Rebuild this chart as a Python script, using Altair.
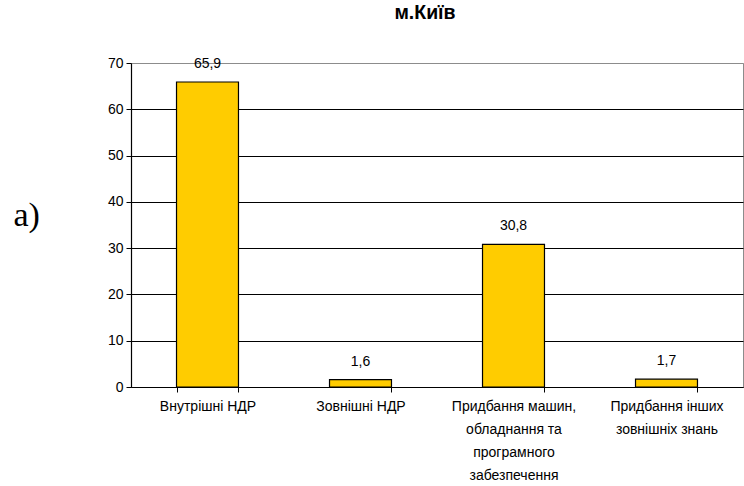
import altair as alt
import pandas as pd

# Innovation spending structure, Kyiv (%)
categories = [
    "Внутрішні НДР",
    "Зовнішні НДР",
    "Придбання машин,\nобладнання та\nпрограмного\nзабезпечення",
    "Придбання інших\nзовнішніх знань",
]
shares = [65.9, 1.6, 30.8, 1.7]
y_ticks = [0, 10, 20, 30, 40, 50, 60, 70]

df = pd.DataFrame({"category": categories, "share": shares})

FONT = "Liberation Sans"

x_enc = alt.X(
    "category:N",
    sort=categories,
    scale=alt.Scale(paddingInner=0.595, paddingOuter=0.2975),
    axis=alt.Axis(
        title=None,
        labelAngle=0,
        labelExpr="split(datum.label, '\\n')",
        labelFont=FONT,
        labelFontSize=14,
        labelColor="black",
        labelLineHeight=23,
        labelPadding=7,
        labelLimit=200,
        tickBand="extent",
        tickColor="black",
        tickSize=5,
        domain=True,
        domainColor="black",
        domainWidth=1.2,
        grid=False,
    ),
)

y_enc = alt.Y(
    "share:Q",
    scale=alt.Scale(domain=[0, 70]),
    axis=alt.Axis(
        values=y_ticks,
        title="a)",
        titleAngle=0,
        titleFont="Liberation Serif",
        titleFontSize=34,
        titleFontWeight="normal",
        titleColor="black",
        titleAlign="left",
        titleBaseline="alphabetic",
        titleX=-118,
        titleY=162,
        labelFont=FONT,
        labelFontSize=14,
        labelColor="black",
        labelPadding=3,
        tickColor="black",
        tickSize=5,
        domain=True,
        domainColor="black",
        domainWidth=1.2,
        grid=True,
        gridColor=alt.condition("datum.value == 70", alt.value("#8c8c8c"), alt.value("black")),
        gridOpacity=1,
    ),
)

bars = alt.Chart(df).mark_bar(color="#FFCC00", stroke="black", strokeWidth=1.2).encode(
    x=x_enc, y=y_enc
)

labels = alt.Chart(df).transform_calculate(
    label="replace(format(datum.share, '.1f'), '.', ',')"
).mark_text(
    font=FONT, fontSize=14, color="black", baseline="alphabetic", dy=-14
).encode(
    x=alt.X("category:N", sort=categories),
    y=alt.Y("share:Q"),
    text="label:N",
)

chart = (
    alt.layer(bars, labels)
    .properties(
        width=612,
        height=324,
        title=alt.TitleParams(
            "м.Київ",
            font=FONT,
            fontSize=19.5,
            fontWeight="bold",
            color="black",
            anchor="middle",
            dx=-12,
            offset=33,
        ),
        autosize=alt.AutoSizeParams(type="none"),
        padding={"left": 131, "top": 63, "right": 1, "bottom": 99},
        background="white",
    )
    .configure_view(stroke="#8c8c8c", strokeWidth=1)
)

chart.save("out.html", embed_options={"renderer": "svg", "actions": False})
